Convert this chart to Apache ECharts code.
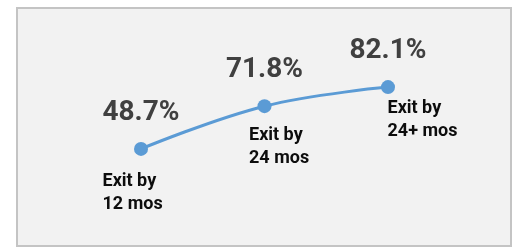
<!DOCTYPE html>
<html>
<head>
<meta charset="utf-8">
<script src="https://cdn.jsdelivr.net/npm/echarts@6/dist/echarts.min.js"></script>
<style>
  html, body { margin: 0; padding: 0; background: #fff; }
  #chart { width: 516px; height: 252px; }
</style>
</head>
<body>
<div id="chart"></div>
<script>
// exit rates by time since entry
const categories = ['Exit by\n12 mos', 'Exit by\n24 mos', 'Exit by\n24+ mos'];
const exitRates = [48.7, 71.8, 82.1];

// where each category caption sits relative to its point (left/top of text)
const captionOffsets = [[-38, 22], [-15, 18], [0, 10]];

const chart = echarts.init(document.getElementById('chart'));

const option = {
    animation: false,
    graphic: [{
        type: 'rect',
        silent: true,
        z: -10,
        shape: { x: 17, y: 8, width: 494, height: 238 },
        style: { fill: '#f2f2f2', stroke: '#c4c4c4', lineWidth: 2 }
    }],
    grid: { left: 141, right: 128, top: 54, bottom: 13 },
    xAxis: {
        type: 'category',
        data: categories,
        boundaryGap: false,
        show: false
    },
    yAxis: {
        type: 'value',
        min: 0,
        max: 100,
        show: false
    },
    series: [
        {
            type: 'line',
            data: exitRates,
            smooth: 0.4,
            symbol: 'circle',
            symbolSize: 14,
            itemStyle: { color: '#5b9bd5' },
            lineStyle: { color: '#5b9bd5', width: 3 },
            label: {
                show: true,
                position: 'top',
                distance: 15,
                formatter: p => p.value.toFixed(1) + '%',
                fontFamily: 'Roboto',
                fontWeight: 'bold',
                fontSize: 28,
                color: '#404040'
            },
            z: 3
        },
        {
            // captions only
            type: 'line',
            data: exitRates.map((v, i) => ({
                value: v,
                label: { position: captionOffsets[i] }
            })),
            symbol: 'circle',
            symbolSize: 1,
            itemStyle: { color: 'rgba(0,0,0,0)' },
            lineStyle: { width: 0, opacity: 0 },
            silent: true,
            label: {
                show: true,
                formatter: p => categories[p.dataIndex],
                align: 'left',
                verticalAlign: 'top',
                fontFamily: 'Roboto',
                fontWeight: 'bold',
                fontSize: 18,
                lineHeight: 23,
                color: '#0d0d0d'
            },
            z: 2
        }
    ]
};

chart.setOption(option);
</script>
</body>
</html>
